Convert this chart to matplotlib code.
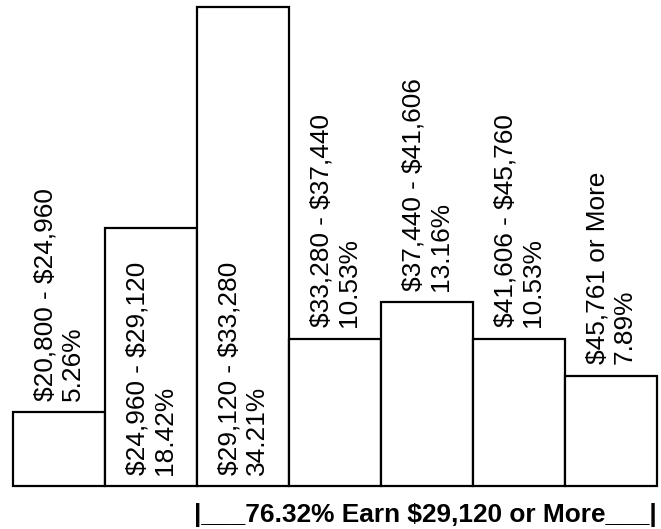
import matplotlib
matplotlib.use("Agg")
import matplotlib.pyplot as plt

ranges = ["$20,800 - $24,960", "$24,960 - $29,120", "$29,120 - $33,280",
          "$33,280 - $37,440", "$37,440 - $41,606", "$41,606 - $45,760",
          "$45,761 or More"]
percents = [5.26, 18.42, 34.21, 10.53, 13.16, 10.53, 7.89]
inside = [False, True, True, False, False, False, False]
footer = "|___76.32% Earn $29,120 or More___|"

W, H = 661, 529
fig = plt.figure(figsize=(W / 100, H / 100), dpi=100)
ax = fig.add_axes([13 / W, 1 - 486 / H, (657 - 13) / W, (486 - 7) / H])
ax.set_xlim(-0.5, len(percents) - 0.5)
ax.set_ylim(0, max(percents))
ax.axis("off")

font = ["Liberation Sans", "DejaVu Sans"]
ax.bar(range(len(percents)), percents, width=1.0, color="white",
       edgecolor="black", linewidth=1.6, clip_on=False)

for i, (r, p, ins) in enumerate(zip(ranges, percents, inside)):
    label = f"{r}\n{p:.2f}%"
    y = 0 if ins else p
    ax.annotate(label, xy=(i, y), xytext=(0, 8), textcoords="offset points",
                rotation=90, ha="center", va="bottom", multialignment="left",
                fontsize=18.9, family=font, linespacing=1.2, parse_math=False)

fig.text(657 / W, 1 - 522 / H, footer, ha="right", va="baseline",
         fontsize=18.9, fontweight="bold", family=font, parse_math=False)

fig.savefig("out.png", dpi=100, facecolor="white")
